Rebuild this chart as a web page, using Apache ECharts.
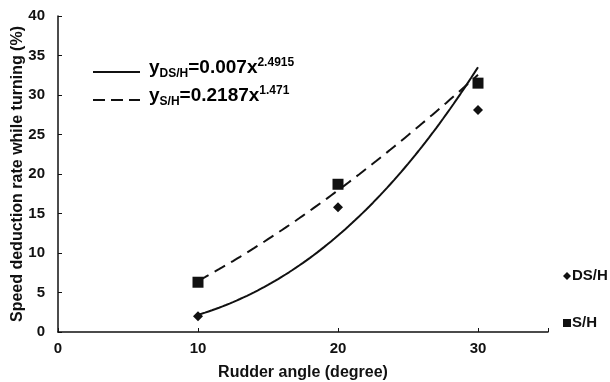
<!DOCTYPE html>
<html>
<head>
<meta charset="utf-8">
<script src="https://cdn.jsdelivr.net/npm/echarts@6/dist/echarts.min.js"></script>
<style>
  html, body { margin: 0; padding: 0; background: #fff; }
  #chart { width: 610px; height: 382px; }
</style>
</head>
<body>
<div id="chart"></div>
<script>
// Rudder angles tested (degree)
const rudderAngles = [10, 20, 30];
// Measured speed deduction rate while turning (%)
const dsH = [2.0, 15.8, 28.1];
const sH = [6.3, 18.7, 31.5];
// Power-law fits y = a * x^b, as printed in the equations
const fitDS = [0.007, 2.4915];
const fitS = [0.2187, 1.471];
// Axis ticks
const xTicks = [0, 10, 20, 30];
const yTicks = [0, 5, 10, 15, 20, 25, 30, 35, 40];

const font = '"Liberation Sans", Arial, sans-serif';
const ink = '#111';

function fitCurve(coef) {
  const pts = [];
  for (let x = rudderAngles[0]; x <= rudderAngles[rudderAngles.length - 1] + 1e-9; x += 0.25) {
    pts.push([x, coef[0] * Math.pow(x, coef[1])]);
  }
  return pts;
}

// Rich-text styles for the fitted equations (subscript / superscript)
const eqRich = {
  m: { fontFamily: font, fontWeight: 'bold', fontSize: 19, color: ink, lineHeight: 26 },
  sub: { fontFamily: font, fontWeight: 'bold', fontSize: 12, color: ink, lineHeight: 26, padding: [12, 0, 0, 0] },
  sup: { fontFamily: font, fontWeight: 'bold', fontSize: 12, color: ink, lineHeight: 26, padding: [0, 0, 11, 0] }
};

const chart = echarts.init(document.getElementById('chart'));

chart.setOption({
  animation: false,
  backgroundColor: '#fff',
  grid: { left: 58, right: 62, top: 16, bottom: 50, containLabel: false, outerBoundsMode: 'none' },
  xAxis: {
    type: 'value', min: 0, max: 35, interval: 10,
    name: 'Rudder angle (degree)', nameLocation: 'middle', nameGap: 33, nameMoveOverlap: false,
    nameTextStyle: { fontFamily: font, fontWeight: 'bold', fontSize: 16, color: ink },
    axisLine: { lineStyle: { color: ink, width: 1.5 } },
    axisTick: { show: true, inside: true, length: 4, lineStyle: { color: ink } },
    axisLabel: {
      margin: 9, fontFamily: font, fontWeight: 'bold', fontSize: 15, color: ink,
      formatter: v => xTicks.indexOf(v) >= 0 ? String(v) : ''
    },
    splitLine: { show: false }
  },
  yAxis: {
    type: 'value', min: yTicks[0], max: yTicks[yTicks.length - 1], interval: 5,
    name: 'Speed deduction rate while turning (%)', nameLocation: 'middle', nameGap: 32, nameMoveOverlap: false,
    nameTextStyle: { fontFamily: font, fontWeight: 'bold', fontSize: 16, color: ink },
    axisLine: { show: true, lineStyle: { color: ink, width: 1.5 } },
    axisTick: { show: true, inside: true, length: 4, lineStyle: { color: ink } },
    axisLabel: { margin: 13, fontFamily: font, fontWeight: 'bold', fontSize: 15, color: ink },
    splitLine: { show: false }
  },
  legend: {
    orient: 'vertical', left: 558, top: 263, itemGap: 31,
    itemWidth: 8, itemHeight: 8,
    textStyle: { fontFamily: font, fontWeight: 'bold', fontSize: 15, lineHeight: 16, color: ink, padding: [0, 0, 0, -4] },
    data: [
      { name: 'DS/H', icon: 'diamond' },
      { name: 'S/H', icon: 'rect' }
    ]
  },
  series: [
    {
      name: 'DS/H fit', type: 'line', data: fitCurve(fitDS), showSymbol: false,
      lineStyle: { color: ink, width: 2 }, z: 2
    },
    {
      name: 'S/H fit', type: 'line', data: fitCurve(fitS), showSymbol: false,
      lineStyle: { color: ink, width: 2, type: [12, 7] }, z: 2
    },
    {
      name: 'DS/H', type: 'scatter', symbol: 'diamond', symbolSize: 10,
      itemStyle: { color: ink, opacity: 1 },
      data: rudderAngles.map((x, i) => [x, dsH[i]]), z: 3
    },
    {
      name: 'S/H', type: 'scatter', symbol: 'rect', symbolSize: 11,
      itemStyle: { color: ink, opacity: 1 },
      data: rudderAngles.map((x, i) => [x, sH[i]]), z: 3
    }
  ],
  graphic: [
    { type: 'line', shape: { x1: 93, y1: 72, x2: 140, y2: 72 }, style: { stroke: ink, lineWidth: 2 } },
    { type: 'line', shape: { x1: 93, y1: 100, x2: 140, y2: 100 }, style: { stroke: ink, lineWidth: 2, lineDash: [12, 6] } },
    {
      type: 'text', left: 149, top: 56,
      style: { text: '{m|y}{sub|DS/H}{m|=0.007x}{sup|2.4915}', rich: eqRich }
    },
    {
      type: 'text', left: 149, top: 84,
      style: { text: '{m|y}{sub|S/H}{m|=0.2187x}{sup|1.471}', rich: eqRich }
    }
  ]
});
</script>
</body>
</html>
